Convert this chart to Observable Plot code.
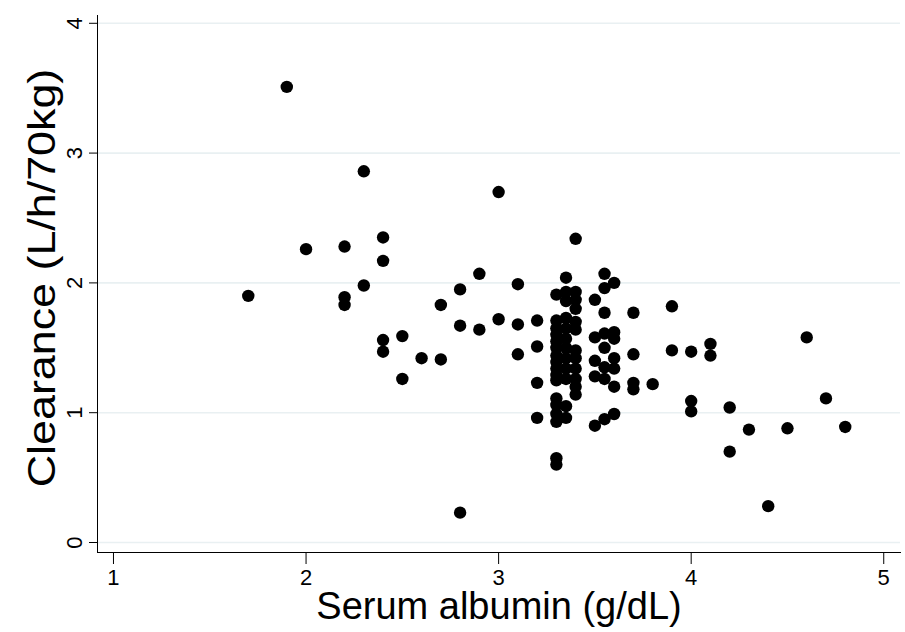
<!DOCTYPE html>
<html>
<head>
<meta charset="utf-8">
<script src="https://cdn.jsdelivr.net/npm/d3@7"></script>
<script src="https://cdn.jsdelivr.net/npm/@observablehq/plot@0.6"></script>
<style>
  html, body { margin: 0; padding: 0; background: #fff; }
</style>
</head>
<body>
<div id="chart"></div>
<script>
const albumin = [
  1.7, 1.9, 2.0, 2.2, 2.2, 2.2, 2.3, 2.3, 2.4, 2.4, 2.4, 2.4, 2.5, 2.5, 2.6, 2.7, 2.7,
  2.8, 2.8, 2.8, 2.9, 2.9, 3.0, 3.0, 3.1, 3.1, 3.1, 3.2, 3.2, 3.2, 3.2,
  3.3, 3.3, 3.3, 3.3, 3.3, 3.3, 3.3, 3.3, 3.3, 3.3, 3.3, 3.3, 3.3, 3.3, 3.3, 3.3, 3.3,
  3.35, 3.35, 3.35, 3.35, 3.35, 3.35, 3.35, 3.35, 3.35, 3.35, 3.35, 3.35,
  3.4, 3.4, 3.4, 3.4, 3.4, 3.4, 3.4, 3.4, 3.4, 3.4, 3.4, 3.4,
  3.5, 3.5, 3.5, 3.5, 3.5,
  3.55, 3.55, 3.55, 3.55, 3.55, 3.55, 3.55, 3.55,
  3.6, 3.6, 3.6, 3.6, 3.6, 3.6, 3.6,
  3.7, 3.7, 3.7, 3.7, 3.8, 3.9, 3.9, 4.0, 4.0, 4.0, 4.1, 4.1,
  4.2, 4.2, 4.3, 4.4, 4.5, 4.6, 4.7, 4.8
];
const clearance = [
  1.90, 3.51, 2.26, 2.28, 1.89, 1.83, 2.86, 1.98, 2.35, 2.17, 1.56, 1.47, 1.59, 1.26, 1.42, 1.83, 1.41,
  1.95, 1.67, 0.23, 2.07, 1.64, 2.70, 1.72, 1.99, 1.68, 1.45, 1.71, 1.51, 1.23, 0.96,
  1.91, 1.71, 1.65, 1.60, 1.55, 1.50, 1.44, 1.39, 1.34, 1.29, 1.25, 1.11, 1.06, 0.99, 0.93, 0.65, 0.60,
  2.04, 1.93, 1.86, 1.73, 1.65, 1.57, 1.50, 1.42, 1.34, 1.26, 1.05, 0.96,
  2.34, 1.93, 1.87, 1.80, 1.70, 1.64, 1.48, 1.42, 1.34, 1.26, 1.20, 1.14,
  1.87, 1.58, 1.40, 1.28, 0.90,
  2.07, 1.96, 1.77, 1.61, 1.50, 1.35, 1.26, 0.95,
  2.00, 1.62, 1.57, 1.42, 1.34, 1.20, 0.99,
  1.77, 1.45, 1.23, 1.18, 1.22, 1.82, 1.48, 1.47, 1.09, 1.01, 1.53, 1.44,
  1.04, 0.70, 0.87, 0.28, 0.88, 1.58, 1.11, 0.89
];
const xTicks = [1, 2, 3, 4, 5];
const yTicks = [0, 1, 2, 3, 4];
const xTitle = "Serum albumin (g/dL)";
const yTitle = "Clearance (L/h/70kg)";

const data = albumin.map((a, i) => ({albumin: a, clearance: clearance[i]}));

const chart = Plot.plot({
  width: 905,
  height: 632,
  marginLeft: 97,
  marginRight: 5,
  marginTop: 15,
  marginBottom: 80,
  style: {fontFamily: "'Liberation Sans', Arial, sans-serif", fontSize: "21px", color: "#000", background: "#fff"},
  x: {domain: [0.917, 5.087]},
  y: {domain: [-0.077, 4.06]},
  marks: [
    Plot.gridY(yTicks, {stroke: "#e9f0f2", strokeOpacity: 1, strokeWidth: 1.6}),
    Plot.frame({anchor: "left", stroke: "#000", strokeWidth: 1}),
    Plot.frame({anchor: "bottom", stroke: "#000", strokeWidth: 1}),
    Plot.axisX(xTicks, {tickSize: 12, tickPadding: 5, fontSize: 22, tickFormat: d3.format("d"), label: null, stroke: "#000", fill: "#000"}),
    Plot.axisY(yTicks, {tickSize: 8, tickRotate: -90, tickPadding: 8, fontSize: 22, tickFormat: d3.format("d"), label: null, stroke: "#000", fill: "#000"}),
    Plot.dot(data, {x: "albumin", y: "clearance", r: 6.2, fill: "#000", stroke: null}),
    Plot.text([xTitle], {frameAnchor: "bottom", lineAnchor: "bottom", dy: 66, fontSize: 38, fill: "#000"}),
    Plot.text([yTitle], {frameAnchor: "left", textAnchor: "middle", lineAnchor: "middle", dx: -55, dy: -6, rotate: -90, fontSize: 38, fill: "#000"})
  ]
});
// stretch the y title along its reading direction, as in the reference
d3.select(chart).selectAll("text")
  .filter(function () { return this.textContent === yTitle; })
  .attr("transform", function () { return d3.select(this).attr("transform") + " scale(1.18,1)"; });
document.getElementById("chart").appendChild(chart);
</script>
</body>
</html>
